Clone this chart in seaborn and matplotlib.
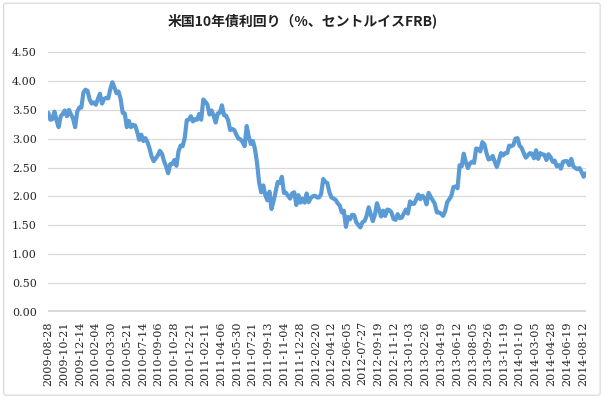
import numpy as np
import pandas as pd
import matplotlib
matplotlib.use('Agg')
import matplotlib.pyplot as plt
import matplotlib.patches as patches
import seaborn as sns

# Weekly (Friday) 10y yields, split by year
y2009 = [3.45, 3.33, 3.34, 3.47, 3.32, 3.20, 3.39, 3.43, 3.49, 3.39, 3.50, 3.42,
         3.35, 3.20, 3.47, 3.54, 3.54, 3.80]
y2010 = [3.85, 3.83, 3.68, 3.61, 3.63, 3.59, 3.69, 3.78, 3.61, 3.69, 3.71, 3.70,
         3.86, 3.98, 3.89, 3.79, 3.82, 3.69, 3.45, 3.44, 3.20, 3.31, 3.20, 3.24,
         3.23, 3.12, 2.98, 3.07, 2.96, 3.01, 2.94, 2.83, 2.69, 2.61, 2.66, 2.71,
         2.79, 2.74, 2.61, 2.52, 2.40, 2.56, 2.56, 2.63, 2.53, 2.78, 2.88, 2.87,
         3.01, 3.32, 3.33, 3.39, 3.30]
y2011 = [3.34, 3.33, 3.43, 3.33, 3.68, 3.64, 3.59, 3.42, 3.49, 3.40, 3.28, 3.44,
         3.45, 3.58, 3.41, 3.40, 3.32, 3.15, 3.17, 3.15, 3.07, 3.00, 2.99, 2.94,
         2.87, 3.22, 3.03, 2.91, 2.96, 2.82, 2.58, 2.24, 2.07, 2.19, 2.02, 1.93,
         2.08, 1.78, 1.92, 2.08, 2.25, 2.23, 2.34, 2.06, 2.06, 2.01, 1.96, 2.05,
         2.07, 1.85, 2.02, 1.89]
y2012 = [1.96, 1.89, 2.05, 1.90, 1.97, 2.00, 2.01, 1.98, 1.98, 2.04, 2.30, 2.25,
         2.23, 2.07, 1.98, 1.96, 1.94, 1.88, 1.84, 1.72, 1.75, 1.47, 1.64, 1.60,
         1.68, 1.67, 1.55, 1.50, 1.46, 1.55, 1.57, 1.66, 1.81, 1.69, 1.57, 1.68,
         1.88, 1.77, 1.65, 1.75, 1.66, 1.77, 1.76, 1.72, 1.61, 1.59, 1.69, 1.62,
         1.63, 1.70, 1.77, 1.70]
y2013 = [1.91, 1.87, 1.87, 1.95, 2.03, 1.95, 2.01, 1.97, 1.86, 2.06, 1.99, 1.93,
         1.87, 1.72, 1.72, 1.70, 1.66, 1.74, 1.90, 1.95, 2.01, 2.16, 2.17, 2.14,
         2.54, 2.52, 2.74, 2.59, 2.49, 2.57, 2.60, 2.58, 2.83, 2.82, 2.78, 2.94,
         2.90, 2.75, 2.64, 2.65, 2.70, 2.60, 2.51, 2.62, 2.75, 2.71, 2.75, 2.75,
         2.88, 2.87, 2.89, 3.00]
y2014 = [3.01, 2.88, 2.84, 2.75, 2.67, 2.71, 2.75, 2.74, 2.66, 2.80, 2.65, 2.75,
         2.73, 2.72, 2.63, 2.73, 2.68, 2.60, 2.62, 2.52, 2.54, 2.48, 2.60, 2.61,
         2.61, 2.54, 2.65, 2.52, 2.49, 2.47, 2.49, 2.42, 2.34, 2.40]

tick_labels = ['2009-08-28', '2009-10-21', '2009-12-14', '2010-02-04', '2010-03-30',
               '2010-05-21', '2010-07-14', '2010-09-06', '2010-10-28', '2010-12-21',
               '2011-02-11', '2011-04-06', '2011-05-30', '2011-07-21', '2011-09-13',
               '2011-11-04', '2011-12-28', '2012-02-20', '2012-04-12', '2012-06-05',
               '2012-07-27', '2012-09-19', '2012-11-12', '2013-01-03', '2013-02-26',
               '2013-04-19', '2013-06-12', '2013-08-05', '2013-09-26', '2013-11-19',
               '2014-01-10', '2014-03-05', '2014-04-28', '2014-06-19', '2014-08-12']
y_ticks = [0.0, 0.5, 1.0, 1.5, 2.0, 2.5, 3.0, 3.5, 4.0, 4.5]

yields = y2009 + y2010 + y2011 + y2012 + y2013 + y2014
dates = pd.date_range('2009-08-28', periods=len(yields), freq='W-FRI')
df = pd.DataFrame({'date': dates, 'yield': yields})

sns.set_style('white')
fig = plt.figure(figsize=(6.05, 3.98), dpi=100)
ax = fig.add_axes([0.0793, 0.2173, 0.8893, 0.6513])

grid_c = '#d9d9d9'
for t in y_ticks[1:]:
    ax.axhline(t, color=grid_c, lw=0.9, zorder=0)
ax.axhline(0, color=grid_c, lw=3.5, zorder=1)

sns.lineplot(data=df, x='date', y='yield', color='#5B9BD5', linewidth=3.0, ax=ax, zorder=3)

ax.set_ylim(0, 4.5)
ax.set_xlim(dates[0] - pd.Timedelta(days=1), dates[-1] + pd.Timedelta(days=1))
ax.set_yticks(y_ticks)
ax.set_yticklabels(['%.2f' % t for t in y_ticks], family='DejaVu Serif', fontsize=8, color='#262626')
ax.set_xticks(pd.to_datetime(tick_labels))
ax.set_xticklabels(tick_labels, rotation=90, family='DejaVu Serif', fontsize=8, color='#262626')
ax.tick_params(axis='y', length=0, pad=8)
ax.tick_params(axis='x', length=0, pad=7)
ax.set_xlabel('')
ax.set_ylabel('')
for s in ax.spines.values():
    s.set_visible(False)

fig.text(0.5, 0.947, '米国10年債利回り（%、セントルイスFRB)', ha='center', va='center',
         family=['Noto Sans CJK JP', 'DejaVu Sans'], fontsize=10, fontweight='bold', color='#222222')

border = patches.FancyBboxPatch((0.006, 0.007), 0.986, 0.985, boxstyle='round,pad=0,rounding_size=0.005',
                                transform=fig.transFigure, fill=False, edgecolor=grid_c, lw=0.9)
fig.patches.append(border)

fig.savefig('out.png', dpi=100)
